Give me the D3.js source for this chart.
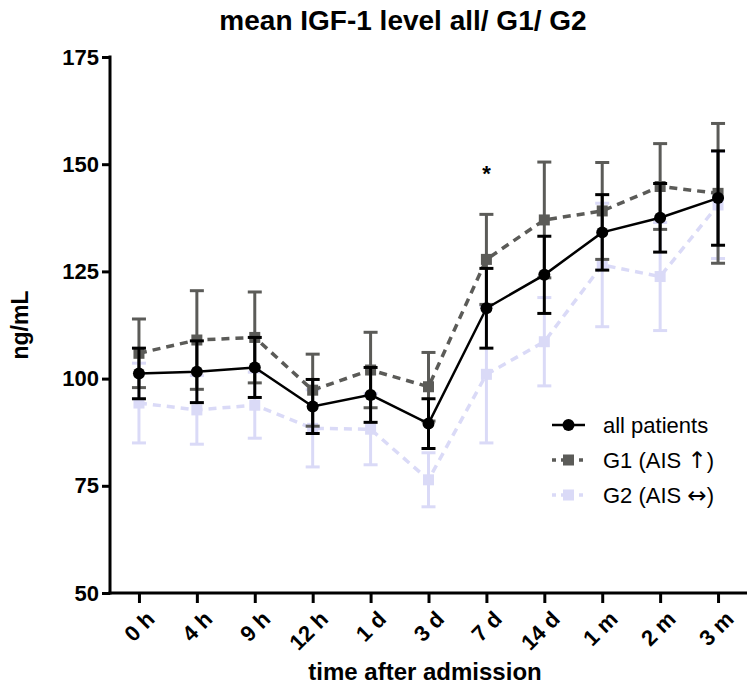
<!DOCTYPE html>
<html lang="en">

<head>
    <meta charset="UTF-8">
    <title>mean IGF-1 level all/ G1/ G2</title>
    <script src="https://d3js.org/d3.v7.min.js"></script>
    <style>
        body {
            margin: 0;
            background: #fff;
        }

        svg text {
            font-family: "Liberation Sans", Arial, sans-serif;
        }

        svg text .arrow {
            font-family: "DejaVu Sans", sans-serif;
            font-size: 23px;
        }
    </style>
</head>

<body>
    <div id="chart"></div>

    <script>
        const timepoints = ["0 h", "4 h", "9 h", "12 h", "1 d", "3 d", "7 d", "14 d", "1 m", "2 m", "3 m"];

        const allMean = [101.2, 101.6, 102.6, 93.5, 96.2, 89.5, 116.4, 124.2, 134.1, 137.5, 142.1];
        const allErr = [5.9, 7.2, 7.0, 6.3, 6.4, 5.8, 9.3, 9.0, 8.8, 8.0, 11.0];

        const g1Mean = [105.9, 109.0, 109.6, 97.3, 102.0, 98.1, 127.8, 137.0, 139.1, 144.8, 143.2];
        const g1Err = [8.0, 11.5, 10.6, 8.4, 8.8, 8.0, 10.5, 13.5, 11.3, 10.0, 16.3];

        const g2Mean = [94.3, 92.7, 93.8, 88.4, 88.2, 76.4, 101.0, 108.6, 126.5, 123.8, 140.5];
        const g2Err = [9.3, 8.0, 7.7, 9.0, 8.3, 6.3, 16.0, 10.3, 14.4, 12.6, 12.5];

        const yTicks = [50, 75, 100, 125, 150, 175];
        const marks = [{ time: "7 d", value: 150, text: "*" }];

        const width = 748;
        const height = 685;
        const plotLeft = 110, plotRight = 747, plotTop = 57, plotBottom = 593;

        const series = [
            { label: "G2 (AIS ", arrow: "\u2194", mean: g2Mean, err: g2Err, color: "#dadaf7", dash: "8,6", shape: "square" },
            { label: "G1 (AIS ", arrow: "\u2191", mean: g1Mean, err: g1Err, color: "#5b5b58", dash: "8,6", shape: "square" },
            { label: "all patients", arrow: null, mean: allMean, err: allErr, color: "#000", dash: null, shape: "circle" }
        ];

        const svg = d3.select("#chart").append("svg")
            .attr("width", width)
            .attr("height", height);

        const x = d3.scalePoint().domain(timepoints).range([plotLeft, plotRight]).padding(0.5);
        const y = d3.scaleLinear().domain([50, 175]).range([plotBottom, plotTop]);

        // axes
        const yAxis = svg.append("g")
            .attr("transform", `translate(${plotLeft},0)`)
            .call(d3.axisLeft(y).tickValues(yTicks).tickSize(8).tickPadding(3));
        yAxis.select(".domain").remove();
        yAxis.selectAll(".tick line").attr("stroke-width", 3);
        yAxis.selectAll("text")
            .attr("font-size", 22)
            .attr("font-weight", "bold")
            .attr("fill", "#000");
        svg.append("line")
            .attr("x1", plotLeft).attr("x2", plotLeft)
            .attr("y1", plotTop - 1.5).attr("y2", plotBottom + 1.5)
            .attr("stroke", "#000").attr("stroke-width", 3);

        const xAxis = svg.append("g")
            .attr("transform", `translate(0,${plotBottom})`)
            .call(d3.axisBottom(x).tickSize(10).tickSizeOuter(0));
        xAxis.select(".domain").remove();
        xAxis.selectAll(".tick line").attr("stroke-width", 3);
        xAxis.selectAll("text")
            .attr("font-size", 22)
            .attr("font-weight", "bold")
            .attr("fill", "#000")
            .attr("text-anchor", "end")
            .attr("transform", "translate(11,22) rotate(-45)")
            .attr("y", 0).attr("dy", "0.35em");
        svg.append("line")
            .attr("x1", plotLeft - 1.5).attr("x2", plotRight)
            .attr("y1", plotBottom).attr("y2", plotBottom)
            .attr("stroke", "#000").attr("stroke-width", 3);

        // titles
        svg.append("text")
            .attr("x", 403).attr("y", 30)
            .attr("text-anchor", "middle")
            .attr("font-size", 28)
            .attr("font-weight", "bold")
            .text("mean IGF-1 level all/ G1/ G2");

        svg.append("text")
            .attr("transform", `translate(28,${(plotTop + plotBottom) / 2}) rotate(-90)`)
            .attr("text-anchor", "middle")
            .attr("font-size", 23)
            .attr("font-weight", "bold")
            .text("ng/mL");

        svg.append("text")
            .attr("x", 425).attr("y", 680)
            .attr("text-anchor", "middle")
            .attr("font-size", 24)
            .attr("font-weight", "bold")
            .text("time after admission");

        // series
        series.forEach(s => {
            const pts = timepoints.map((t, i) => ({ t, m: s.mean[i], e: s.err[i] }));
            const g = svg.append("g");

            const bars = g.selectAll(".bar").data(pts).enter().append("g")
                .attr("stroke", s.color).attr("stroke-width", 3);
            bars.append("line")
                .attr("x1", d => x(d.t)).attr("x2", d => x(d.t))
                .attr("y1", d => y(d.m - d.e)).attr("y2", d => y(d.m + d.e));
            bars.append("line")
                .attr("x1", d => x(d.t) - 7).attr("x2", d => x(d.t) + 7)
                .attr("y1", d => y(d.m + d.e)).attr("y2", d => y(d.m + d.e));
            bars.append("line")
                .attr("x1", d => x(d.t) - 7).attr("x2", d => x(d.t) + 7)
                .attr("y1", d => y(d.m - d.e)).attr("y2", d => y(d.m - d.e));

            g.append("path")
                .datum(pts)
                .attr("fill", "none")
                .attr("stroke", s.color)
                .attr("stroke-width", s.dash ? 3.5 : 2.5)
                .attr("stroke-dasharray", s.dash)
                .attr("d", d3.line().x(d => x(d.t)).y(d => y(d.m)));

            if (s.shape === "circle") {
                g.selectAll("circle").data(pts).enter().append("circle")
                    .attr("cx", d => x(d.t)).attr("cy", d => y(d.m))
                    .attr("r", 6).attr("fill", s.color);
            } else {
                g.selectAll("rect").data(pts).enter().append("rect")
                    .attr("x", d => x(d.t) - 5.5).attr("y", d => y(d.m) - 5.5)
                    .attr("width", 11).attr("height", 11).attr("fill", s.color);
            }
        });

        // significance marker
        svg.selectAll(".mark").data(marks).enter().append("text")
            .attr("x", d => x(d.time)).attr("y", d => y(d.value))
            .attr("text-anchor", "middle")
            .attr("dy", "0.75em")
            .attr("font-size", 22)
            .attr("font-weight", "bold")
            .text(d => d.text);

        // legend
        const legendItems = series.slice().reverse();
        const legend = svg.append("g").attr("transform", "translate(552,425)");
        legendItems.forEach((s, i) => {
            const row = legend.append("g").attr("transform", `translate(0,${i * 35})`);
            row.append("line")
                .attr("x1", 0).attr("x2", 33).attr("y1", 0).attr("y2", 0)
                .attr("stroke", s.color)
                .attr("stroke-width", s.dash ? 3.5 : 2.5)
                .attr("stroke-dasharray", s.dash ? "4,5" : null);
            if (s.shape === "circle") {
                row.append("circle").attr("cx", 16.5).attr("cy", 0).attr("r", 6).attr("fill", s.color);
            } else {
                row.append("rect").attr("x", 11).attr("y", -5.5).attr("width", 11).attr("height", 11).attr("fill", s.color);
            }
            const txt = row.append("text")
                .attr("x", 51).attr("y", 0).attr("dy", "0.35em")
                .attr("font-size", 22);
            txt.append("tspan").text(s.label);
            if (s.arrow) {
                txt.append("tspan").attr("class", "arrow").text(s.arrow);
                txt.append("tspan").text(")");
            }
        });
    </script>
</body>

</html>
